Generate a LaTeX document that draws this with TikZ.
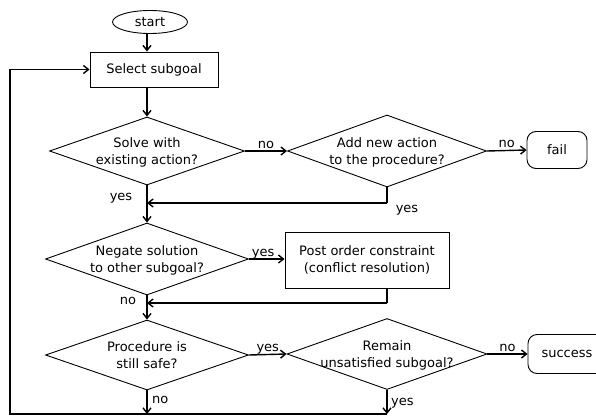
\documentclass[tikz,border=0pt]{standalone}
\usepackage{fontspec}
\setmainfont{DejaVu Sans}
\usetikzlibrary{shapes.geometric,arrows.meta}
\newcommand{\dtxt}[2]{\raisebox{-0.32em}[0pt][0pt]{\makebox[0pt]{\begin{tabular}{@{}c@{}}#1\\#2\end{tabular}}}}
\tikzset{
  dia/.style={diamond, draw, line width=0.9pt, inner sep=0pt},
  procbox/.style={rectangle, draw, line width=0.9pt, inner sep=0pt, align=center},
  term/.style={rectangle, rounded corners=9pt, draw, line width=0.9pt, inner sep=0pt},
  conn/.style={line width=1.4pt},
  arr/.style={conn, -{Straight Barb[length=5pt,width=8pt,line width=1.4pt]}},
  lab/.style={inner sep=1pt}
}
\begin{document}
\begin{tikzpicture}[x=1pt,y=-1pt,font=\fontsize{13}{17}\selectfont]
\useasboundingbox (0,0) rectangle (596,417);
\node[ellipse, draw, line width=0.9pt, inner sep=0pt, minimum width=75pt, minimum height=23pt] (start) at (150,22) {start};
\node[procbox, minimum width=128pt, minimum height=35pt] (sel) at (154,69.5) {Select subgoal};
\node[dia, minimum width=195pt, minimum height=68pt] (d1) at (147,151) {\dtxt{Solve with}{existing action?}};
\node[dia, minimum width=199pt, minimum height=72pt] (d2) at (387,151) {\dtxt{Add new action}{to the procedure?}};
\node[term, minimum width=60pt, minimum height=37pt] (fail) at (557,150) {fail};
\node[dia, minimum width=203pt, minimum height=72pt] (d3) at (147,259) {\dtxt{Negate solution}{to other subgoal?}};
\node[procbox, minimum width=164pt, minimum height=56pt] (post) at (367,260) {Post order constraint\\(conflict resolution)};
\node[dia, minimum width=203pt, minimum height=70pt] (d4) at (147,355) {\dtxt{Procedure is}{still safe?}};
\node[dia, minimum width=200pt, minimum height=71pt] (d5) at (387,354) {\dtxt{Remain}{unsatisfied subgoal?}};
\node[term, minimum width=78pt, minimum height=39pt] (succ) at (567,354) {success};
\coordinate (bl) at (10,414);
% main column
\draw[arr] (start.south -| d1.north) -- (sel.north -| d1.north);
\draw[arr] (sel.south -| d1.north) -- (d1.north);
\draw[arr] (d1.south) -- (d3.north);
\draw[arr] (d3.south) -- (d4.north);
% first row
\draw[arr] (d1.east) -- node[lab, anchor=base, yshift=3pt] {no} (d2.west);
\draw[arr] (d2.east) -- node[lab, anchor=base, yshift=3pt] {no} (fail.west);
\draw[conn] (d2.south) -- (387,203) coordinate (m1);
\draw[arr] (m1) -- (m1 -| d1.south);
\node[lab] (yesA) at (407,210) {yes};
\node[lab] (yesB) at (121,198) {yes};
% second row
\draw[arr] (d3.east) -- node[lab, anchor=base, yshift=3pt, pos=0.4] {yes} (d3.east -| post.west);
\draw[conn] (post.south -| m1) -- (387,303) coordinate (m2);
\draw[arr] (m2) -- (m2 -| d3.south);
\node[lab] (noB) at (128,301) {no};
% third row
\draw[arr] (d4.east) -- node[lab, anchor=base, yshift=3pt] {yes} (d5.west);
\draw[arr] (d5.east) -- node[lab, anchor=base, yshift=3pt] {no} (succ.west);
\draw[arr] (d4.south) -- (d4.south |- bl) coordinate (b1);
\draw[arr] (d5.south) -- (d5.south |- bl) coordinate (b2);
\node[lab, anchor=west] (noC) at (151,400) {no};
\node[lab, anchor=west] (yesC) at (390,403) {yes};
% feedback loop
\draw[arr] (b2) -- (bl) -- (bl |- sel.west) -- (sel.west);
\end{tikzpicture}
\end{document}
